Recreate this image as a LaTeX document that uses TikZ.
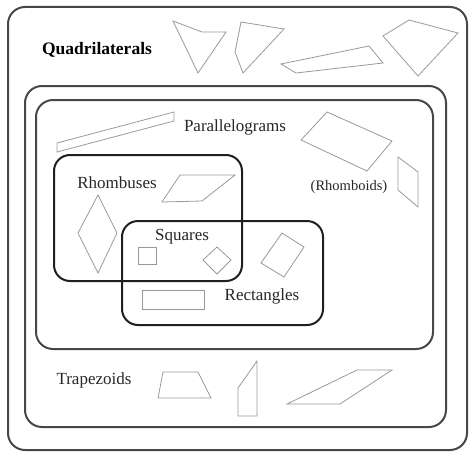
\documentclass[tikz,border=0pt]{standalone}
\usepackage{fontspec}
\setmainfont{Liberation Serif}
\begin{document}
\begin{tikzpicture}[x=1pt,y=-1pt,
  setbox/.style={draw=black!72,line width=2pt,rounded corners=17pt},
  innerbox/.style={draw=black!88,line width=2pt,rounded corners=16pt},
  shp/.style={draw=black!40,line width=0.8pt,line join=miter},
  lbl/.style={inner sep=0pt,font=\fontsize{17}{20}\selectfont,text=black!85}]
\useasboundingbox (0,0) rectangle (470,452);
% set boxes
\draw[setbox] (8,7) rectangle (467,450);
\draw[setbox] (25,86) rectangle (446,427);
\draw[setbox] (36,100) rectangle (433,349);
\draw[innerbox] (54,155) rectangle (242,281);
\draw[innerbox] (122,221) rectangle (323,325);
% labels
\node[lbl,font=\fontsize{17.5}{20}\bfseries\selectfont,text=black] (quad) at (97,50) {Quadrilaterals};
\node[lbl] (para) at (235,127) {Parallelograms};
\node[lbl] (rhomb) at (117,183) {Rhombuses};
\node[lbl,font=\fontsize{14.5}{17}\selectfont] (rhoid) at (349,187) {(Rhomboids)};
\node[lbl] (sq) at (182,237) {Squares};
\node[lbl] (rect) at (262,296) {Rectangles};
\node[lbl] (trap) at (94,380) {Trapezoids};
% quadrilaterals
\draw[shp] (173,21) -- (202,32) -- (226,32) -- (198,73) -- cycle;
\draw[shp] (241,22) -- (284,29) -- (243,73) -- (235,52) -- cycle;
\draw[shp] (281,64) -- (369,46) -- (383,63) -- (296,73) -- cycle;
\draw[shp] (409,20) -- (458,33) -- (418,76) -- (383,36) -- cycle;
% parallelograms
\draw[shp] (57,143) -- (174,112) -- (174,121) -- (57,152) -- cycle;
\draw[shp] (327,112) -- (392,141) -- (367,171) -- (301,140) -- cycle;
\draw[shp] (398,157) -- (418,172) -- (418,207) -- (398,190) -- cycle;
% rhombuses
\draw[shp] (162,202) -- (180,175) -- (235,175) -- (202,201) -- cycle;
\draw[shp] (98,195) -- (117,233) -- (98,273) -- (78,233) -- cycle;
% squares
\draw[shp] (138,247) rectangle (156,264);
\draw[shp] (217,247) -- (231,260) -- (217,274) -- (203,260) -- cycle;
% rectangles
\draw[shp] (282,233) -- (304,247) -- (284,277) -- (261,263) -- cycle;
\draw[shp] (142,290) rectangle (204,309);
% trapezoids
\draw[shp] (163,372) -- (198,372) -- (211,398) -- (158,398) -- cycle;
\draw[shp] (257,361) -- (257,416) -- (238,416) -- (238,388) -- cycle;
\draw[shp] (287,404) -- (357,370) -- (392,370) -- (340,404) -- cycle;
\end{tikzpicture}
\end{document}
